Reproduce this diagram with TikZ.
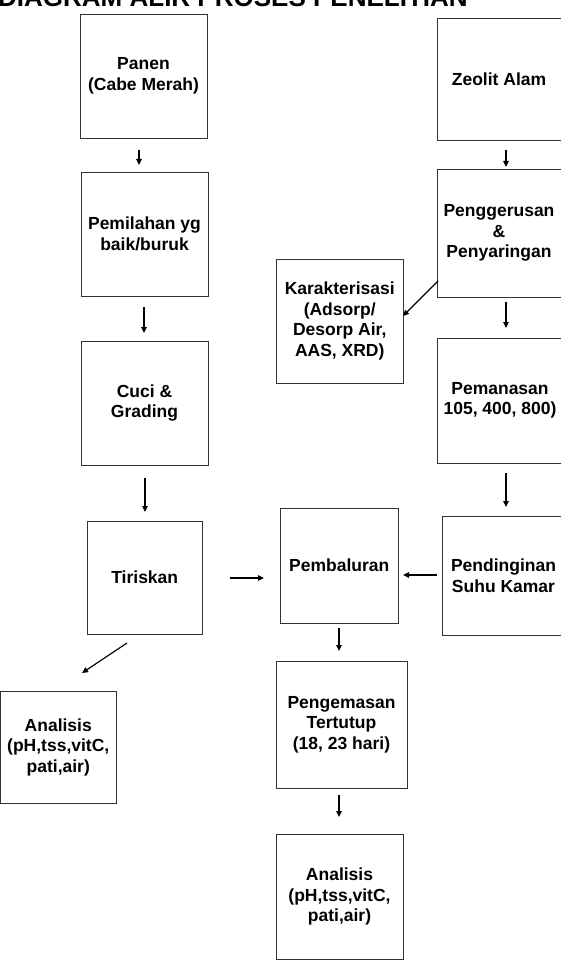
\documentclass[tikz,border=0pt]{standalone}
\usepackage{fontspec}
\setmainfont{Liberation Sans}
\usetikzlibrary{arrows.meta}
\begin{document}
\begin{tikzpicture}[x=1pt,y=-1pt,
  box/.style={draw=black!80, line width=0.8pt, inner sep=0pt, outer sep=0pt,
    align=center, font=\bfseries\fontsize{17.5}{20.5}\selectfont},
  arr/.style={line width=1.2pt, -{Triangle[length=6pt,width=5.5pt]}}]
\useasboundingbox (0,0) rectangle (561,965);
\clip (0,0) rectangle (561,965);

% heading, partly above the page edge
\node[anchor=base west, inner sep=0pt, font=\bfseries\fontsize{26}{30}\selectfont]
  (title) at (-2,7) {DIAGRAM ALIR PROSES PENELITIAN};

% left column: chilli handling
\node[box, minimum width=127pt, minimum height=124pt] (panen) at (143.5,76) {Panen\\(Cabe Merah)};
\node[box, minimum width=127pt, minimum height=124pt] (pemil) at (144.5,234) {Pemilahan yg\\baik/buruk};
\node[box, minimum width=127pt, minimum height=124pt] (cuci) at (144.5,403) {Cuci \&\\Grading};
\node[box, minimum width=115.5pt, minimum height=113pt] (tiris) at (144.75,577.5) {Tiriskan};
\node[box, minimum width=115.5pt, minimum height=112pt] (anal1) at (58.25,747) {Analisis\\(pH,tss,vitC,\\pati,air)};

% right column: zeolite preparation
\node[box, minimum width=124pt, minimum height=122pt] (zeolit) at (499,79) {Zeolit Alam};
\node[box, minimum width=124pt, minimum height=128pt] (pengg) at (499,233) {Penggerusan\\\&\\Penyaringan};
\node[box, minimum width=126.5pt, minimum height=124pt] (karak) at (339.75,321) {Karakterisasi\\(Adsorp/\\Desorp Air,\\AAS, XRD)};
\node[box, minimum width=126pt, minimum height=125pt] (peman) at (500,400.5) {Pemanasan\\105, 400, 800)};
\node[box, minimum width=123pt, minimum height=119pt] (pendi) at (503.5,575.5) {Pendinginan\\Suhu Kamar};

% middle column: coating and storage
\node[box, minimum width=117.5pt, minimum height=115pt] (pemba) at (339.25,565.5) {Pembaluran};
\node[box, minimum width=131pt, minimum height=127pt] (pengem) at (341.5,724.5) {Pengemasan\\Tertutup\\(18, 23 hari)};
\node[box, minimum width=127pt, minimum height=125pt] (anal2) at (339.5,896.5) {Analisis\\(pH,tss,vitC,\\pati,air)};

% connectors
\draw[arr] ([shift={(-4.5,12)}]panen.south) -- ([shift={(-5.5,-7)}]pemil.north);
\draw[arr] ([shift={(-0.5,11)}]pemil.south) -- ([shift={(-0.5,-8)}]cuci.north);
\draw[arr] ([shift={(0.5,13)}]cuci.south) -- ([shift={(0.25,-9)}]tiris.north);
\draw[arr] ([shift={(-17.75,9)}]tiris.south) -- ([shift={(23.75,-18)}]anal1.north);
\draw[arr] ([shift={(27.5,0.5)}]tiris.east) -- ([shift={(-16.5,12.5)}]pemba.west);
\draw[arr] ([shift={(7,10)}]zeolit.south) -- ([shift={(7,-2)}]pengg.north);
\draw[arr] ([shift={(1,48)}]pengg.west) -- ([shift={(0,-5)}]karak.east);
\draw[arr] ([shift={(7,5)}]pengg.south) -- ([shift={(6,-10)}]peman.north);
\draw[arr] ([shift={(6,10)}]peman.south) -- ([shift={(2.5,-9)}]pendi.north);
\draw[arr] ([shift={(-5,-0.5)}]pendi.west) -- ([shift={(5,9.5)}]pemba.east);
\draw[arr] ([shift={(-0.25,5)}]pemba.south) -- ([shift={(-2.5,-10)}]pengem.north);
\draw[arr] ([shift={(-2.5,7)}]pengem.south) -- ([shift={(-0.5,-17)}]anal2.north);
\end{tikzpicture}
\end{document}
